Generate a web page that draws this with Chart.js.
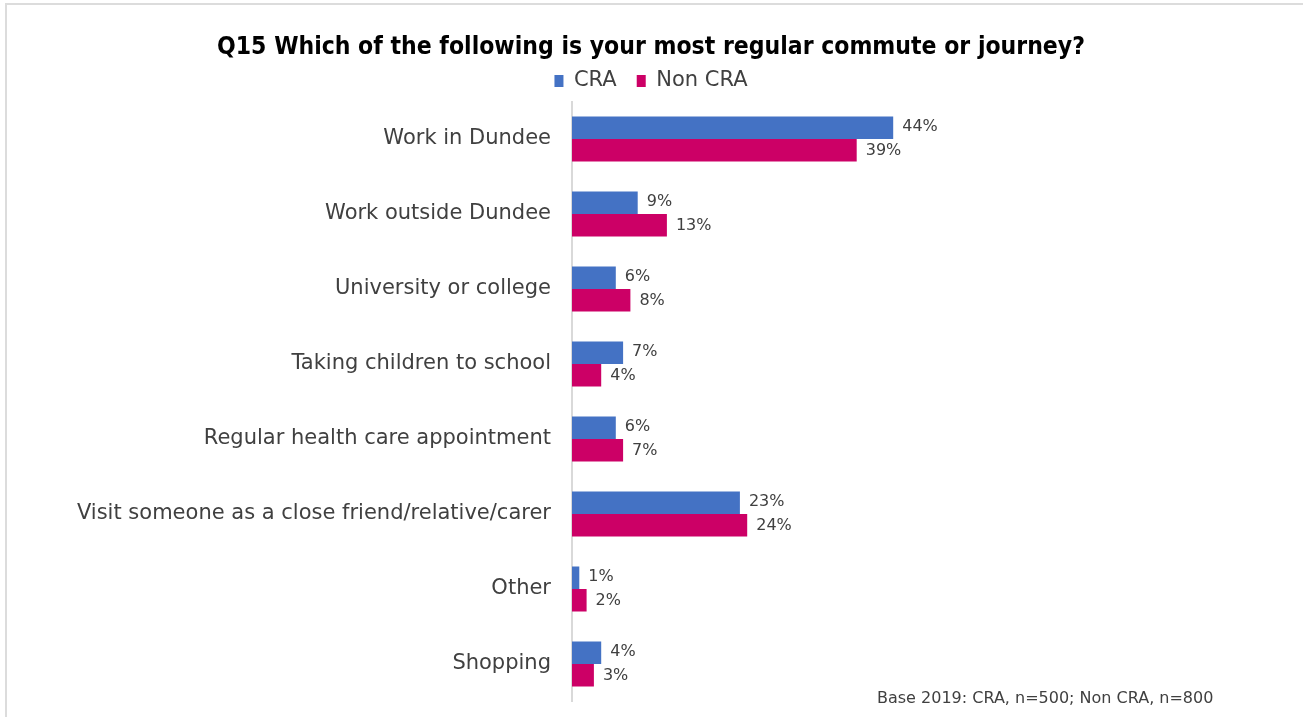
<!DOCTYPE html>
<html>
<head>
<meta charset="utf-8">
<script src="https://cdn.jsdelivr.net/npm/chart.js@4"></script>
<style>
  html, body { margin: 0; padding: 0; background: #fff; }
  #wrap { position: relative; width: 1303px; height: 717px; overflow: hidden; }
  #frame-top { position: absolute; left: 5px; top: 3px; width: 1298px; height: 2px; background: #dcdcdc; }
  #frame-left { position: absolute; left: 5px; top: 3px; width: 2px; height: 714px; background: #dcdcdc; }
  #base { position: absolute; left: 877px; top: 688px; font: 16px "DejaVu Sans", sans-serif; color: #404040; white-space: nowrap; }
</style>
</head>
<body>
<div id="wrap">
  <canvas id="chart" width="1303" height="717"></canvas>
  <div id="frame-top"></div>
  <div id="frame-left"></div>
  <div id="base">Base 2019: CRA, n=500; Non CRA, n=800</div>
</div>
<script>
// survey answers, one row per journey type
const categories = [
    'Work in Dundee',
    'Work outside Dundee',
    'University or college',
    'Taking children to school',
    'Regular health care appointment',
    'Visit someone as a close friend/relative/carer',
    'Other',
    'Shopping'
];
const craValues = [44, 9, 6, 7, 6, 23, 1, 4];
const nonCraValues = [39, 13, 8, 4, 7, 24, 2, 3];

const FONT = '"DejaVu Sans", sans-serif';

// prints "xx%" just past the end of each bar
const barLabels = {
    id: 'barLabels',
    afterDatasetsDraw(chart) {
        const ctx = chart.ctx;
        ctx.save();
        ctx.font = '16px ' + FONT;
        ctx.fillStyle = '#404040';
        ctx.textAlign = 'left';
        ctx.textBaseline = 'middle';
        chart.data.datasets.forEach((ds, i) => {
            const meta = chart.getDatasetMeta(i);
            meta.data.forEach((bar, j) => {
                ctx.fillText(ds.data[j] + '%', bar.x + 9, bar.y + (i === 0 ? -1 : 1));
            });
        });
        ctx.restore();
    }
};

new Chart(document.getElementById('chart'), {
    type: 'bar',
    data: {
        labels: categories,
        datasets: [
            { label: 'CRA', data: craValues, backgroundColor: '#4472C4' },
            { label: 'Non CRA', data: nonCraValues, backgroundColor: '#CC0066' }
        ]
    },
    options: {
        indexAxis: 'y',
        responsive: false,
        animation: false,
        layout: { padding: { left: 0, right: 1, top: 0, bottom: 0 } },
        datasets: { bar: { categoryPercentage: 0.6, barPercentage: 1.0 } },
        scales: {
            x: { display: false, min: 0, max: 100 },
            y: {
                grid: { display: false },
                border: { color: '#d9d9d9', width: 2 },
                ticks: { color: '#404040', font: { size: 21, family: FONT }, padding: 13 },
                afterFit(scale) {
                    // fixed plot box: labels column 572px wide, rows from 101.5 to 701.5
                    scale.width = 572;
                    scale.paddingTop = 101.5;
                    scale.paddingBottom = 15.5;
                }
            }
        },
        plugins: {
            title: {
                display: true,
                text: 'Q15 Which of the following is your most regular commute or journey?',
                color: '#000',
                font: { size: 24.5, weight: 'bold', family: '"DejaVu Sans Condensed", "DejaVu Sans", sans-serif' },
                padding: { top: 31, bottom: -12 }
            },
            legend: {
                position: 'top',
                labels: {
                    color: '#404040',
                    font: { size: 21, family: FONT },
                    boxWidth: 9,
                    boxHeight: 12,
                    padding: 20
                }
            },
            tooltip: { enabled: false }
        }
    },
    plugins: [barLabels]
});
</script>
</body>
</html>
